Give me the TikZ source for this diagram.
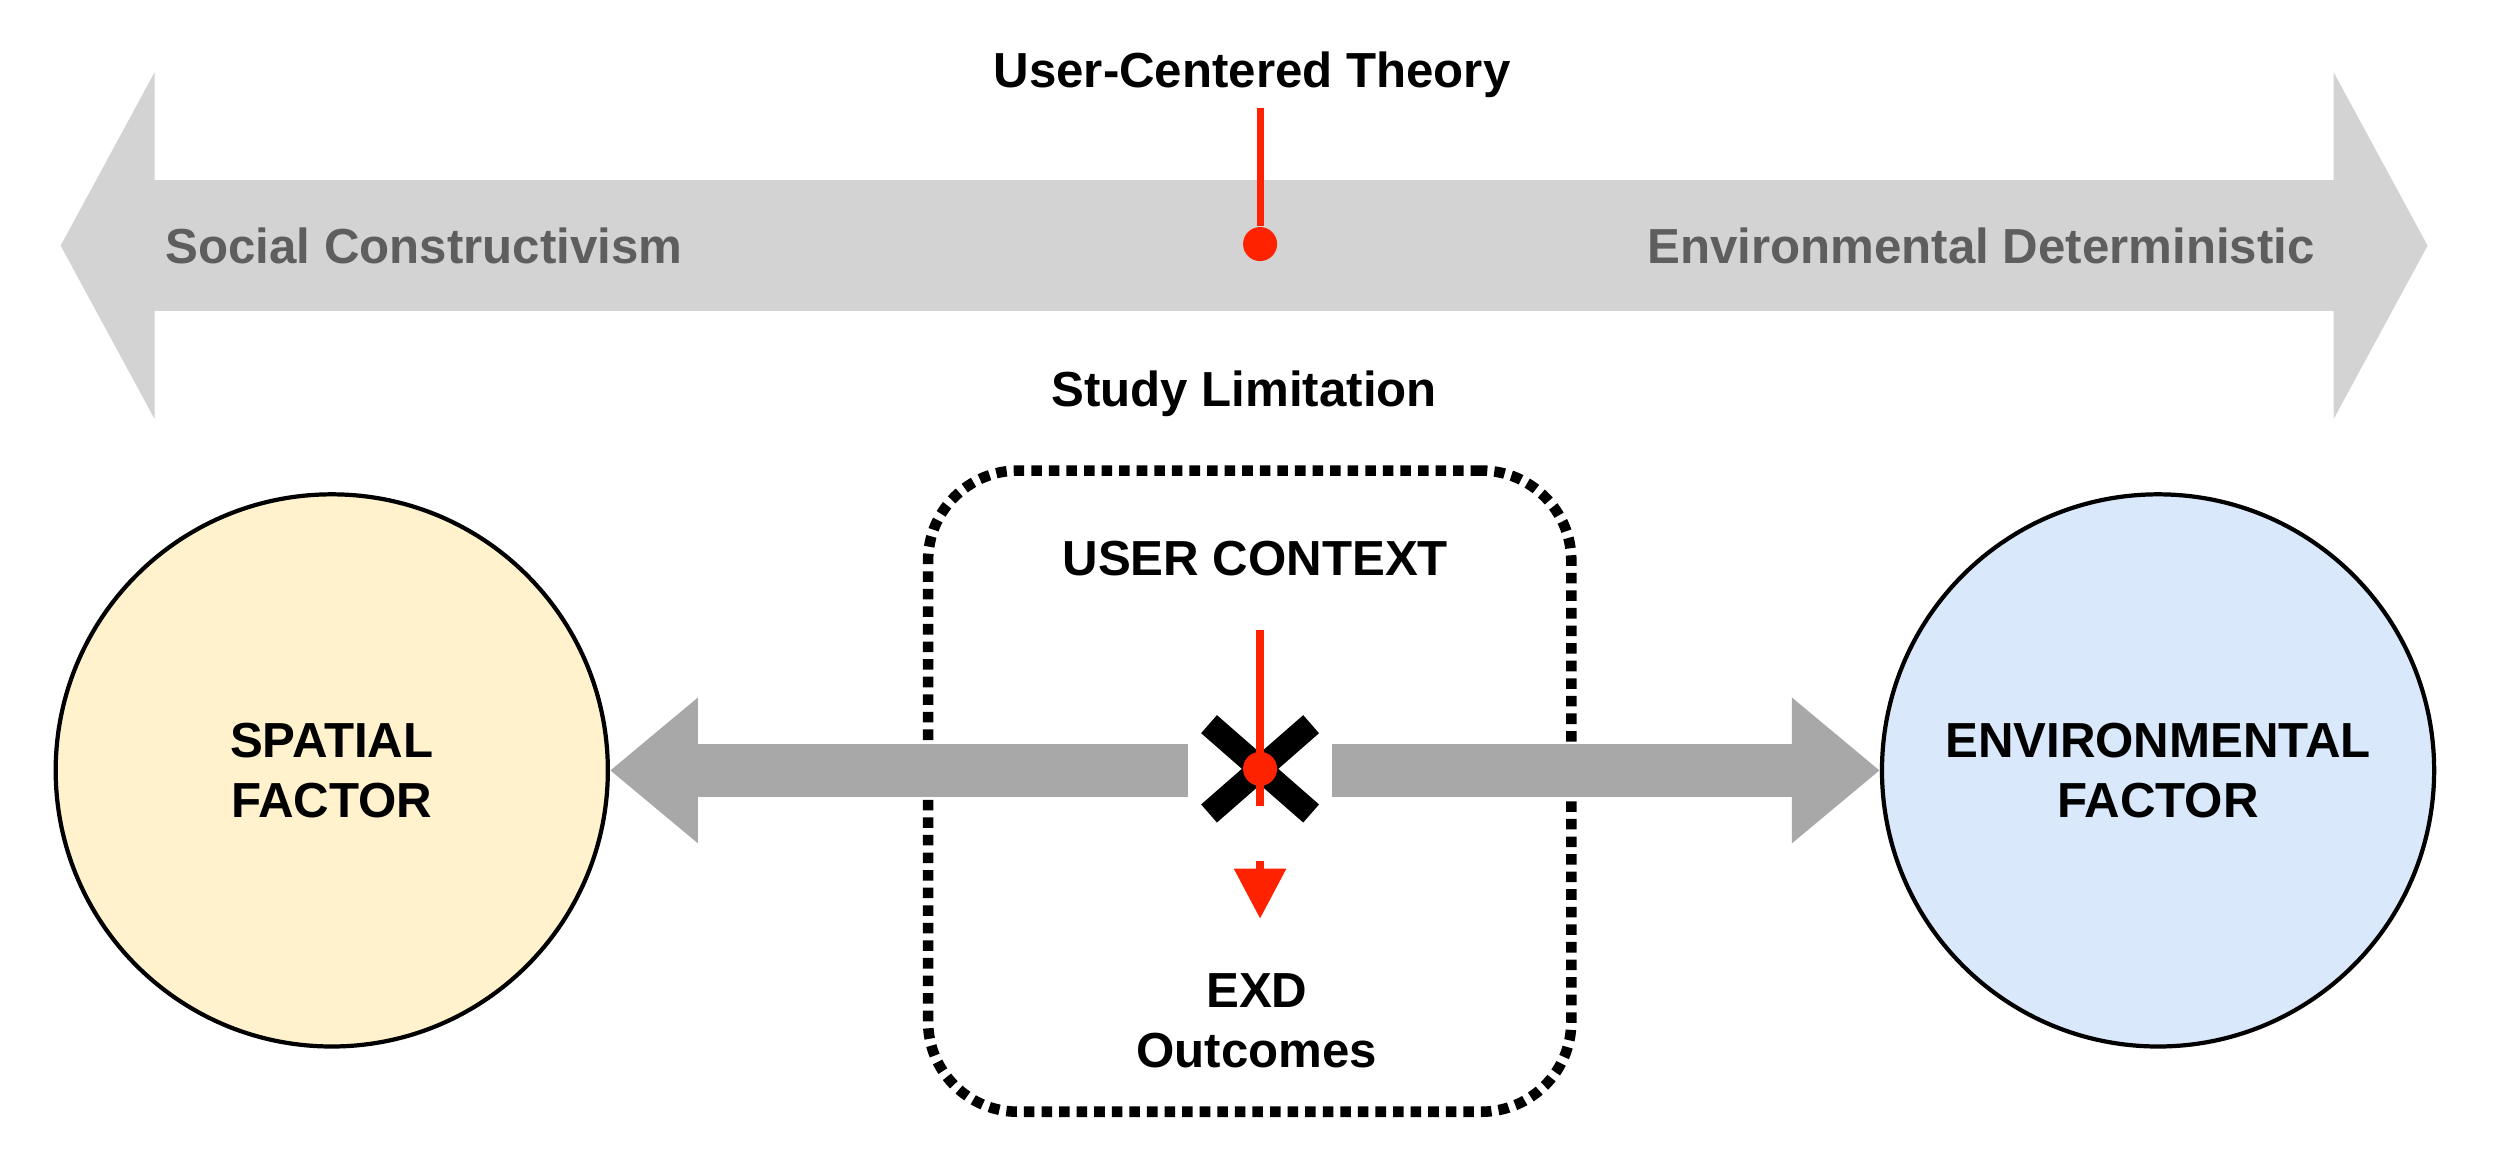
\documentclass[tikz,border=0pt]{standalone}
\usepackage{fontspec}
\setmainfont{Liberation Sans}
\usetikzlibrary{positioning, arrows.meta}
\definecolor{bandgray}{HTML}{D3D3D3}
\definecolor{arrowgray}{HTML}{A8A8A8}
\definecolor{labelgray}{HTML}{5E5E5E}
\definecolor{spatialcol}{HTML}{FFF2CC}
\definecolor{environmentcol}{HTML}{DAE8FC}
\definecolor{markred}{HTML}{FF2200}
\begin{document}
\begin{tikzpicture}[x=0.01595cm, y=-0.01595cm,
  every node/.style={font=\fontsize{14}{17}\selectfont\bfseries, align=center},
  factor/.style={circle, draw=black, line width=1.2pt, minimum size=5.52cm, inner sep=0pt},
  dot/.style={circle, fill=markred, minimum size=0.34cm, inner sep=0pt},
  crossbar/.style={line width=0.24cm}]
\useasboundingbox (0,0) rectangle (1568,730);
% spectrum band
\coordinate (bandleft) at (38,154);
\coordinate (bandright) at (1522,154);
\draw[bandgray, line width=1.31cm, {Triangle[width=3.43cm,length=0.94cm]}-{Triangle[width=3.43cm,length=0.94cm]}] (bandleft) -- (bandright);
\node[anchor=west, text=labelgray] (social) at (96,154) {Social Constructivism};
\node[anchor=east, text=labelgray] (determ) at (1459,154) {Environmental Deterministic};
\node (theory) at (785,47) {User-Centered Theory};
\coordinate (theoryfoot) at (790,68);
\node[dot] (theorydot) at (790,153) {};
\draw[markred, line width=2pt] (theoryfoot) -- (theorydot);
% study limitation box
\node (limit) at (780,247) {Study Limitation};
\node[draw, dotted, line width=3pt, rounded corners=0.9cm, minimum width=6.43cm, minimum height=6.41cm] (box) at (783.5,496) {};
\node (context) at (787,350) {USER CONTEXT};
\node (outcomes) at (788,640) {EXD\\Outcomes};
% factors
\node[factor, fill=spatialcol] (spatial) at (208,483) {SPATIAL\\FACTOR};
\node[factor, fill=environmentcol] (environment) at (1353,483) {ENVIRONMENTAL\\FACTOR};
\draw[crossbar] (758,454) -- (822,510);
\draw[crossbar] (822,454) -- (758,510);
\coordinate (crossleft) at (745,483);
\coordinate (crossright) at (835,483);
\draw[arrowgray, line width=0.53cm, -{Triangle[width=1.40cm,length=0.88cm]}] (crossleft) -- (spatial);
\draw[arrowgray, line width=0.53cm, -{Triangle[width=1.40cm,length=0.88cm]}] (crossright) -- (environment);
\coordinate (usertop) at (790,395);
\coordinate (userend) at (790,505);
\draw[markred, line width=2.5pt] (usertop) -- (userend);
\node[dot] (userdot) at (790,482) {};
\coordinate (outstart) at (790,540);
\coordinate (outtip) at (790,576);
\draw[markred, line width=2.5pt, -{Triangle[width=0.5cm,length=0.5cm]}] (outstart) -- (outtip);
\end{tikzpicture}
\end{document}
